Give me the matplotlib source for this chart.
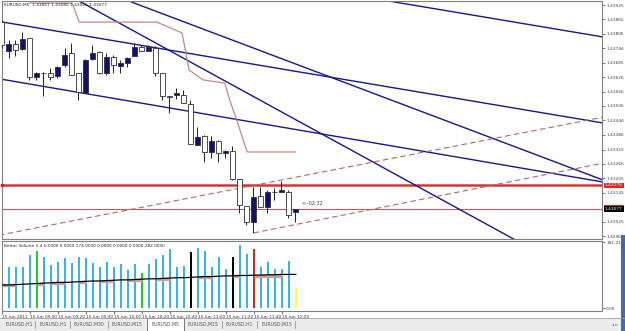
import matplotlib
matplotlib.use("Agg")
import matplotlib.pyplot as plt
from matplotlib.patches import Rectangle

W, H = 625, 331

# ---------- price data (EURUSD M5, 15 Jun 2011 08:40 .. 12:10) ----------
opens = [1.43854, 1.43734, 1.43763, 1.43742, 1.43788, 1.43626, 1.43643, 1.43643, 1.43630, 1.43676,
         1.43726, 1.43643, 1.43560, 1.43701, 1.43730, 1.43643, 1.43709, 1.43672, 1.43684, 1.43713,
         1.43751, 1.43734, 1.43747, 1.43643, 1.43547, 1.43552, 1.43552, 1.43514, 1.43344, 1.43381,
         1.43315, 1.43361, 1.43311, 1.43319, 1.43203, 1.43091, 1.43025, 1.43132, 1.43087, 1.43149,
         1.43149, 1.43149, 1.43067]
highs = [1.43863, 1.43780, 1.43780, 1.43813, 1.43788, 1.43647, 1.43645, 1.43664, 1.43672, 1.43747,
         1.43767, 1.43643, 1.43701, 1.43759, 1.43734, 1.43726, 1.43717, 1.43697, 1.43709, 1.43767,
         1.43759, 1.43759, 1.43755, 1.43643, 1.43549, 1.43581, 1.43572, 1.43531, 1.43419, 1.43386,
         1.43381, 1.43365, 1.43323, 1.43340, 1.43203, 1.43091, 1.43170, 1.43170, 1.43157, 1.43166,
         1.43195, 1.43157, 1.43080]
lows = [1.43747, 1.43705, 1.43713, 1.43738, 1.43614, 1.43614, 1.43547, 1.43614, 1.43622, 1.43668,
        1.43635, 1.43531, 1.43560, 1.43697, 1.43639, 1.43635, 1.43643, 1.43643, 1.43668, 1.43713,
        1.43734, 1.43734, 1.43630, 1.43531, 1.43477, 1.43535, 1.43518, 1.43348, 1.43344, 1.43273,
        1.43290, 1.43273, 1.43290, 1.43199, 1.43062, 1.43013, 1.42979, 1.43087, 1.43062, 1.43116,
        1.43149, 1.43042, 1.43025]
closes = [1.43759, 1.43763, 1.43738, 1.43784, 1.43626, 1.43643, 1.43641, 1.43626, 1.43668, 1.43717,
          1.43635, 1.43564, 1.43697, 1.43726, 1.43643, 1.43709, 1.43676, 1.43684, 1.43705, 1.43751,
          1.43734, 1.43751, 1.43643, 1.43547, 1.43545, 1.43560, 1.43518, 1.43348, 1.43377, 1.43315,
          1.43361, 1.43311, 1.43319, 1.43203, 1.43095, 1.43025, 1.43128, 1.43087, 1.43149, 1.43147,
          1.43157, 1.43054, 1.43077]

# brown trailing line (bar index, price)
trail_idx = [4, 10.1, 11.1, 22.2, 25.8, 26.8, 28.8, 31.9, 32.6, 33.6, 35.1, 42]
trail_px = [1.43933, 1.43933, 1.43854, 1.43854, 1.43809, 1.43655, 1.43614, 1.43601,
            1.43531, 1.43448, 1.43315, 1.43315]

# trend lines: (idx0, price0, idx1, price1)
blue_lines = [(0, 1.43855, 86, 1.43435),
              (0, 1.43617, 86, 1.43190),
              (10.8, 1.43946, 73.4, 1.42950),
              (18.6, 1.43937, 86, 1.43198),
              (54.4, 1.43946, 86, 1.43792)]
dashed_lines = [(-1, 1.42966, 86, 1.43460),
                (36, 1.42979, 86, 1.43269)]
red_level = 1.43176

price_ticks = [1.43925, 1.43865, 1.43806, 1.43746, 1.43685, 1.43626, 1.43566, 1.43506,
               1.43446, 1.43386, 1.43325, 1.43266, 1.43205, 1.43145, 1.43025, 1.42965]

# ---------- volume data ----------
volumes = [124, 114, 112, 113, 145, 158, 140, 119, 126, 137, 125, 142, 137, 124, 113, 128,
           113, 121, 105, 122, 96, 121, 135, 146, 163, 114, 117, 154, 165, 157, 114, 142,
           108, 142, 174, 148, 163, 113, 126, 108, 108, 130, 57]
special_bars = {5: "#22cc22", 20: "#22cc22", 27: "#000000", 33: "#000000", 36: "#dd2020", 42: "#ffff40"}
vol_ma = [64, 64, 65, 66, 67, 68, 69, 70, 71, 71, 72, 73, 74, 75, 75, 76, 77, 78, 78, 79,
          80, 81, 81, 82, 83, 84, 84, 85, 86, 87, 87, 88, 89, 89, 90, 90, 91, 91, 92, 92,
          93, 93, 93]
pink_start = [0, 5, 7, 11, 14, 18, 22, 28, 33, 36]
pink_end = [2, 6, 9, 12, 16, 20, 24, 30, 34, 40]
pink_val = [63, 67, 69, 72, 74, 77, 80, 85, 88, 90]

time_ticks = [0, 4, 8, 12, 16, 20, 24, 28, 32, 36, 40]
time_labels = ["15 Jun 2011", "15 Jun 09:00", "15 Jun 09:20", "15 Jun 09:40", "15 Jun 10:00",
               "15 Jun 10:20", "15 Jun 10:40", "15 Jun 11:00", "15 Jun 11:20", "15 Jun 11:40",
               "15 Jun 12:00"]
tabs = ["EURUSD,H1", "EURUSD,H1", "EURUSD,M30", "EURUSD,M15", "EURUSD,M5",
        "EURUSD,M15", "EURUSD,H1", "EURUSD,M15"]
tab_edges = [2, 35, 70, 108, 147, 184, 222, 257, 295]
active_tab = 4

FS = 3.1
GRID = "#808080"
NAVY = "#16168a"

fig = plt.figure(figsize=(W / 100, H / 100), dpi=100)
fig.patch.set_facecolor("white")

def axrect(l, t, r, b):
    return [l / W, 1 - b / H, (r - l) / W, (b - t) / H]

xl = ((2 - 1.5) / 7, (602 - 1.5) / 7)

# ---------- price panel ----------
ax = fig.add_axes(axrect(2, 1, 602, 239))
ax.set_xlim(*xl)
ax.set_ylim(1.429539, 1.439416)
for s in ax.spines.values():
    s.set_color(GRID); s.set_linewidth(0.8)

for i, (o, h, l, c) in enumerate(zip(opens, highs, lows, closes)):
    ax.vlines(i, l, h, color="#202020", lw=0.7, zorder=3)
    bull = c > o
    ax.add_patch(Rectangle((i - 0.35, min(o, c)), 0.7, max(abs(c - o), 0.000005),
                           facecolor="#12126e" if bull else "white",
                           edgecolor="#303030", lw=0.6, zorder=4))

for x0, y0, x1, y1 in blue_lines:
    ax.plot([x0, x1], [y0, y1], color=NAVY, lw=1.0, zorder=2)
for x0, y0, x1, y1 in dashed_lines:
    ax.plot([x0, x1], [y0, y1], color="#b06868", lw=0.8, ls=(0, (5, 3)), zorder=2)
ax.plot(trail_idx, trail_px, color="#c08a8a", lw=0.9, zorder=2)

ax.axhline(red_level, color="#e07070", lw=2.2, zorder=1)
ax.axhline(red_level, color="#d03030", lw=0.8, zorder=1)
ax.axhline(closes[-1], color="#a86060", lw=0.8, zorder=1)
ax.plot([xl[0] + 0.05], [red_level], marker="s", ms=2, color="#e02020", zorder=5, clip_on=False)

ax.text(42.9, 1.43103, "<--02:32", fontsize=3.5, color="#404040", va="center", ha="left")

ax.yaxis.tick_right()
ax.set_yticks(price_ticks)
ax.set_yticklabels([f"{v:.5f}" for v in price_ticks])
ax.tick_params(axis="y", labelsize=FS, length=2, pad=1, colors="#404040", width=0.5)
ax.set_xticks([])

ylab = ax.get_yaxis_transform()
box = dict(boxstyle="square,pad=0.2", ec="none")
ax.text(1.005, red_level, f"{red_level:.5f}", transform=ylab, fontsize=FS, color="white",
        va="center", ha="left", bbox=dict(box, fc="#e02828"))
# ask-price marker peeking out behind the bid label
ax.add_patch(Rectangle((1.003, closes[-1] + 0.00003), 0.034, 0.00014, transform=ylab,
                       facecolor="#e02828", edgecolor="none", clip_on=False, zorder=5))
ax.text(1.005, closes[-1], f"{closes[-1]:.5f}", transform=ylab, fontsize=FS, color="white",
        va="center", ha="left", zorder=6, bbox=dict(box, fc="black"))

title = "EURUSD,M5  " + " ".join(f"{v:.5f}" for v in (opens[-1], highs[-1], lows[-1], closes[-1]))
ax.text(0.004, 0.99, title, transform=ax.transAxes, fontsize=FS, color="#202020",
        va="top", ha="left")

# ---------- volume panel ----------
av = fig.add_axes(axrect(2, 241, 602, 311))
av.set_xlim(*xl)
av.set_ylim(-7.4, 184.7)
for s in av.spines.values():
    s.set_color(GRID); s.set_linewidth(0.8)
bar_cols = [special_bars.get(i, "#3cb2dc") for i in range(len(volumes))]
av.bar(range(len(volumes)), volumes, width=0.3, color=bar_cols, zorder=2)
for s0, s1, v in zip(pink_start, pink_end, pink_val):
    av.plot([s0, s1], [v, v], color="#c9a2a2", lw=2.4, zorder=3, solid_capstyle="butt")
av.plot(range(len(vol_ma)), vol_ma, color="black", lw=0.9, zorder=4)

av.text(0.004, 0.95, "Better Volume 1.4 0.0000 0.0000 174.0000 0.0000 0.0000 0.0000 282.0000",
        transform=av.transAxes, fontsize=FS, color="#202020", va="top", ha="left")

av.yaxis.tick_right()
av.set_yticks([181.21, 0])
av.set_yticklabels(["181.21", "0.00"])
av.tick_params(axis="y", labelsize=FS, length=2, pad=1, colors="#404040", width=0.5)
av.set_xticks(time_ticks)
av.set_xticklabels(time_labels, ha="left")
av.tick_params(axis="x", labelsize=FS, length=2, pad=1, colors="#303030", width=0.5)

# ---------- tab strip ----------
fig.patches.append(Rectangle((0, 0), 1, 13 / H, transform=fig.transFigure,
                             facecolor="#ececec", edgecolor="none", zorder=0))
fig.lines.append(plt.Line2D([0, 1], [13 / H, 13 / H], transform=fig.transFigure,
                            color="#a0a0a0", lw=0.6))
for k, name in enumerate(tabs):
    l, r = tab_edges[k], tab_edges[k + 1]
    if k == active_tab:
        fig.patches.append(Rectangle((l / W, 0), (r - l) / W, 13 / H, transform=fig.transFigure,
                                     facecolor="white", edgecolor="#606060", lw=0.6))
    else:
        fig.lines.append(plt.Line2D([r / W, r / W], [3 / H, 10 / H], transform=fig.transFigure,
                                    color="#808080", lw=0.5))
    fig.text((l + 4) / W, 6.5 / H, name, fontsize=3.3, color="#505050", va="center", ha="left")
fig.text(612 / W, 6.5 / H, "\u25c2 \u25b8", fontsize=3, color="#707070", va="center")
fig.patches.append(Rectangle((621 / W, 0), 4 / W, 96 / H, transform=fig.transFigure,
                             facecolor="#4a6a9a", edgecolor="none"))

fig.savefig("out.png", dpi=100)
